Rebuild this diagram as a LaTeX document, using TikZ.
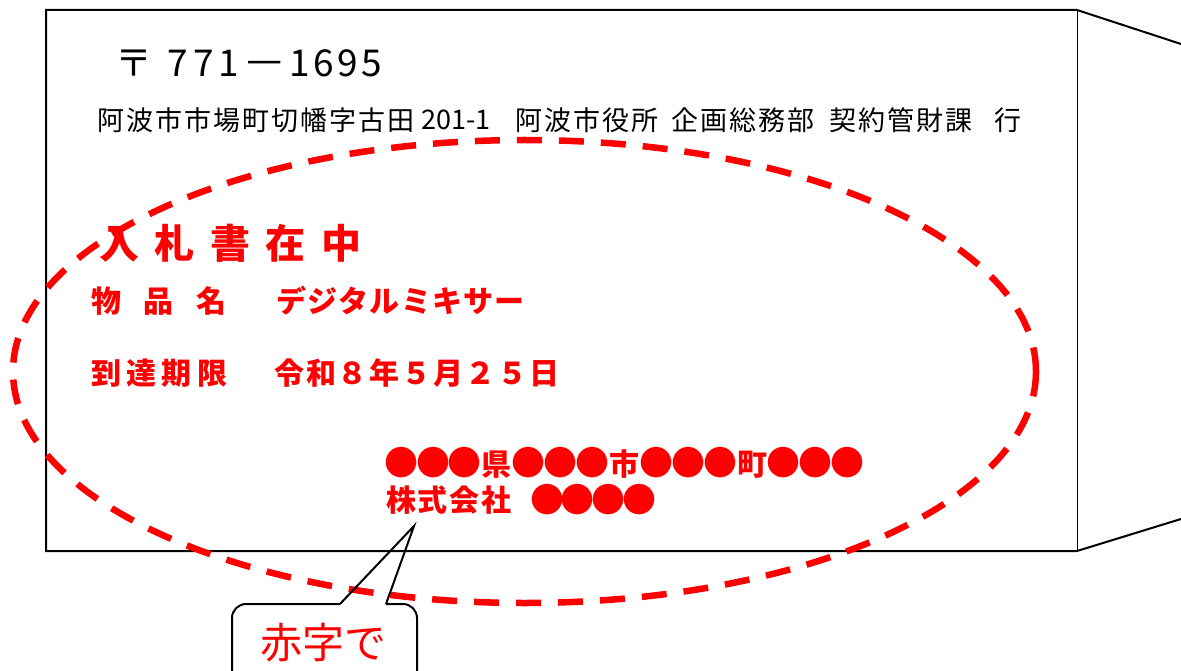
\documentclass[tikz,border=0pt]{standalone}
\usepackage{fontspec}
\setmainfont{Noto Sans CJK JP}
\newcommand\cellrow[2]{\def\cellwd{#1}\cellrowloop#2\relax}
\def\cellrowloop#1{\ifx#1\relax\else\makebox[\cellwd]{#1}\expandafter\cellrowloop\fi}
\newcommand\bigdot{{\fontsize{34}{36}\selectfont ●}}
\begin{document}
\begin{tikzpicture}[x=1pt,y=-1pt,
  redtxt/.style={text=red,font=\bfseries\fontsize{30}{36}\selectfont,inner sep=0pt,anchor=west},
  blktxt/.style={text=black,font=\fontsize{27}{32}\selectfont,inner sep=0pt,anchor=west},
  env/.style={line width=2pt,line join=miter},
  ring/.style={draw=red,line width=6.5pt,dash pattern=on 25pt off 17pt},
  callout/.style={line width=2pt}]
\useasboundingbox (0,0) rectangle (1181,671);
\fill[white] (0,0) rectangle (1181,671);
% envelope
\draw[env] (1181,44) -- (1077,10) -- (46,10) -- (46,551) -- (1077,551) -- (1181,519);
\draw[line width=1pt] (1077,10) -- (1077,551);
% postal code
\node[blktxt,font=\fontsize{37}{44}\selectfont] (zip) at (118.5,63.5)
  {\makebox[30pt]{〒}\hspace{16.75pt}\cellrow{25.5pt}{771}\makebox[46pt]{\scalebox{1.2}[1]{－}}\cellrow{24pt}{1695}};
% address
\node[blktxt] (adr1) at (96.5,120) {\cellrow{29pt}{阿波市市場町切幡字古田}};
\node[blktxt] (adr2) at (421,120) {201-1};
\node[blktxt] (adr3) at (514.5,120) {\cellrow{29pt}{阿波市役所}};
\node[blktxt] (adr4) at (670.5,120) {\cellrow{29pt}{企画総務部}};
\node[blktxt] (adr5) at (828.5,120) {\cellrow{29pt}{契約管財課}};
\node[blktxt] (adr6) at (993.5,120) {\cellrow{29pt}{行}};
% red texts
\node[redtxt,font=\bfseries\fontsize{40}{48}\selectfont] (title) at (91.25,243) {\cellrow{55.5pt}{入札書在中}};
\node[redtxt] (item) at (79.75,301) {\cellrow{52.5pt}{物品名}};
\node[redtxt] (itemv) at (275.4,301) {\cellrow{31.25pt}{デジタルミキサー}};
\node[redtxt] (due) at (88.3,373) {\cellrow{35.3pt}{到達期限}};
\node[redtxt] (duev) at (273,373) {\cellrow{31.9pt}{令和８年５月２５日}};
\node[redtxt] (sender) at (385,463) {\cellrow{31.9pt}{\bigdot\bigdot\bigdot 県\bigdot\bigdot\bigdot 市\bigdot\bigdot\bigdot 町\bigdot\bigdot\bigdot}};
\node[redtxt] (co) at (385,500) {\cellrow{31.7pt}{株式会社}};
\node[redtxt] (cov) at (531.6,500) {\cellrow{30.7pt}{\bigdot\bigdot\bigdot\bigdot}};
% dashed ring
\draw[ring] (524.5,371.5) ellipse [x radius=511.5, y radius=231.5];
% callout
\coordinate (tip) at (414,526);
\coordinate (bl) at (340,604);
\coordinate (br) at (386,604);
\draw[callout,fill=white,rounded corners=14pt] (bl) -- (232,604) -- (232,700) -- (417,700) -- (417,604) -- (br);
\draw[callout,line join=miter] (bl) -- (tip) -- (br);
\node[text=red,font=\fontsize{42}{50}\selectfont,inner sep=0pt] (note) at (323.5,643) {赤字で};
\end{tikzpicture}
\end{document}
